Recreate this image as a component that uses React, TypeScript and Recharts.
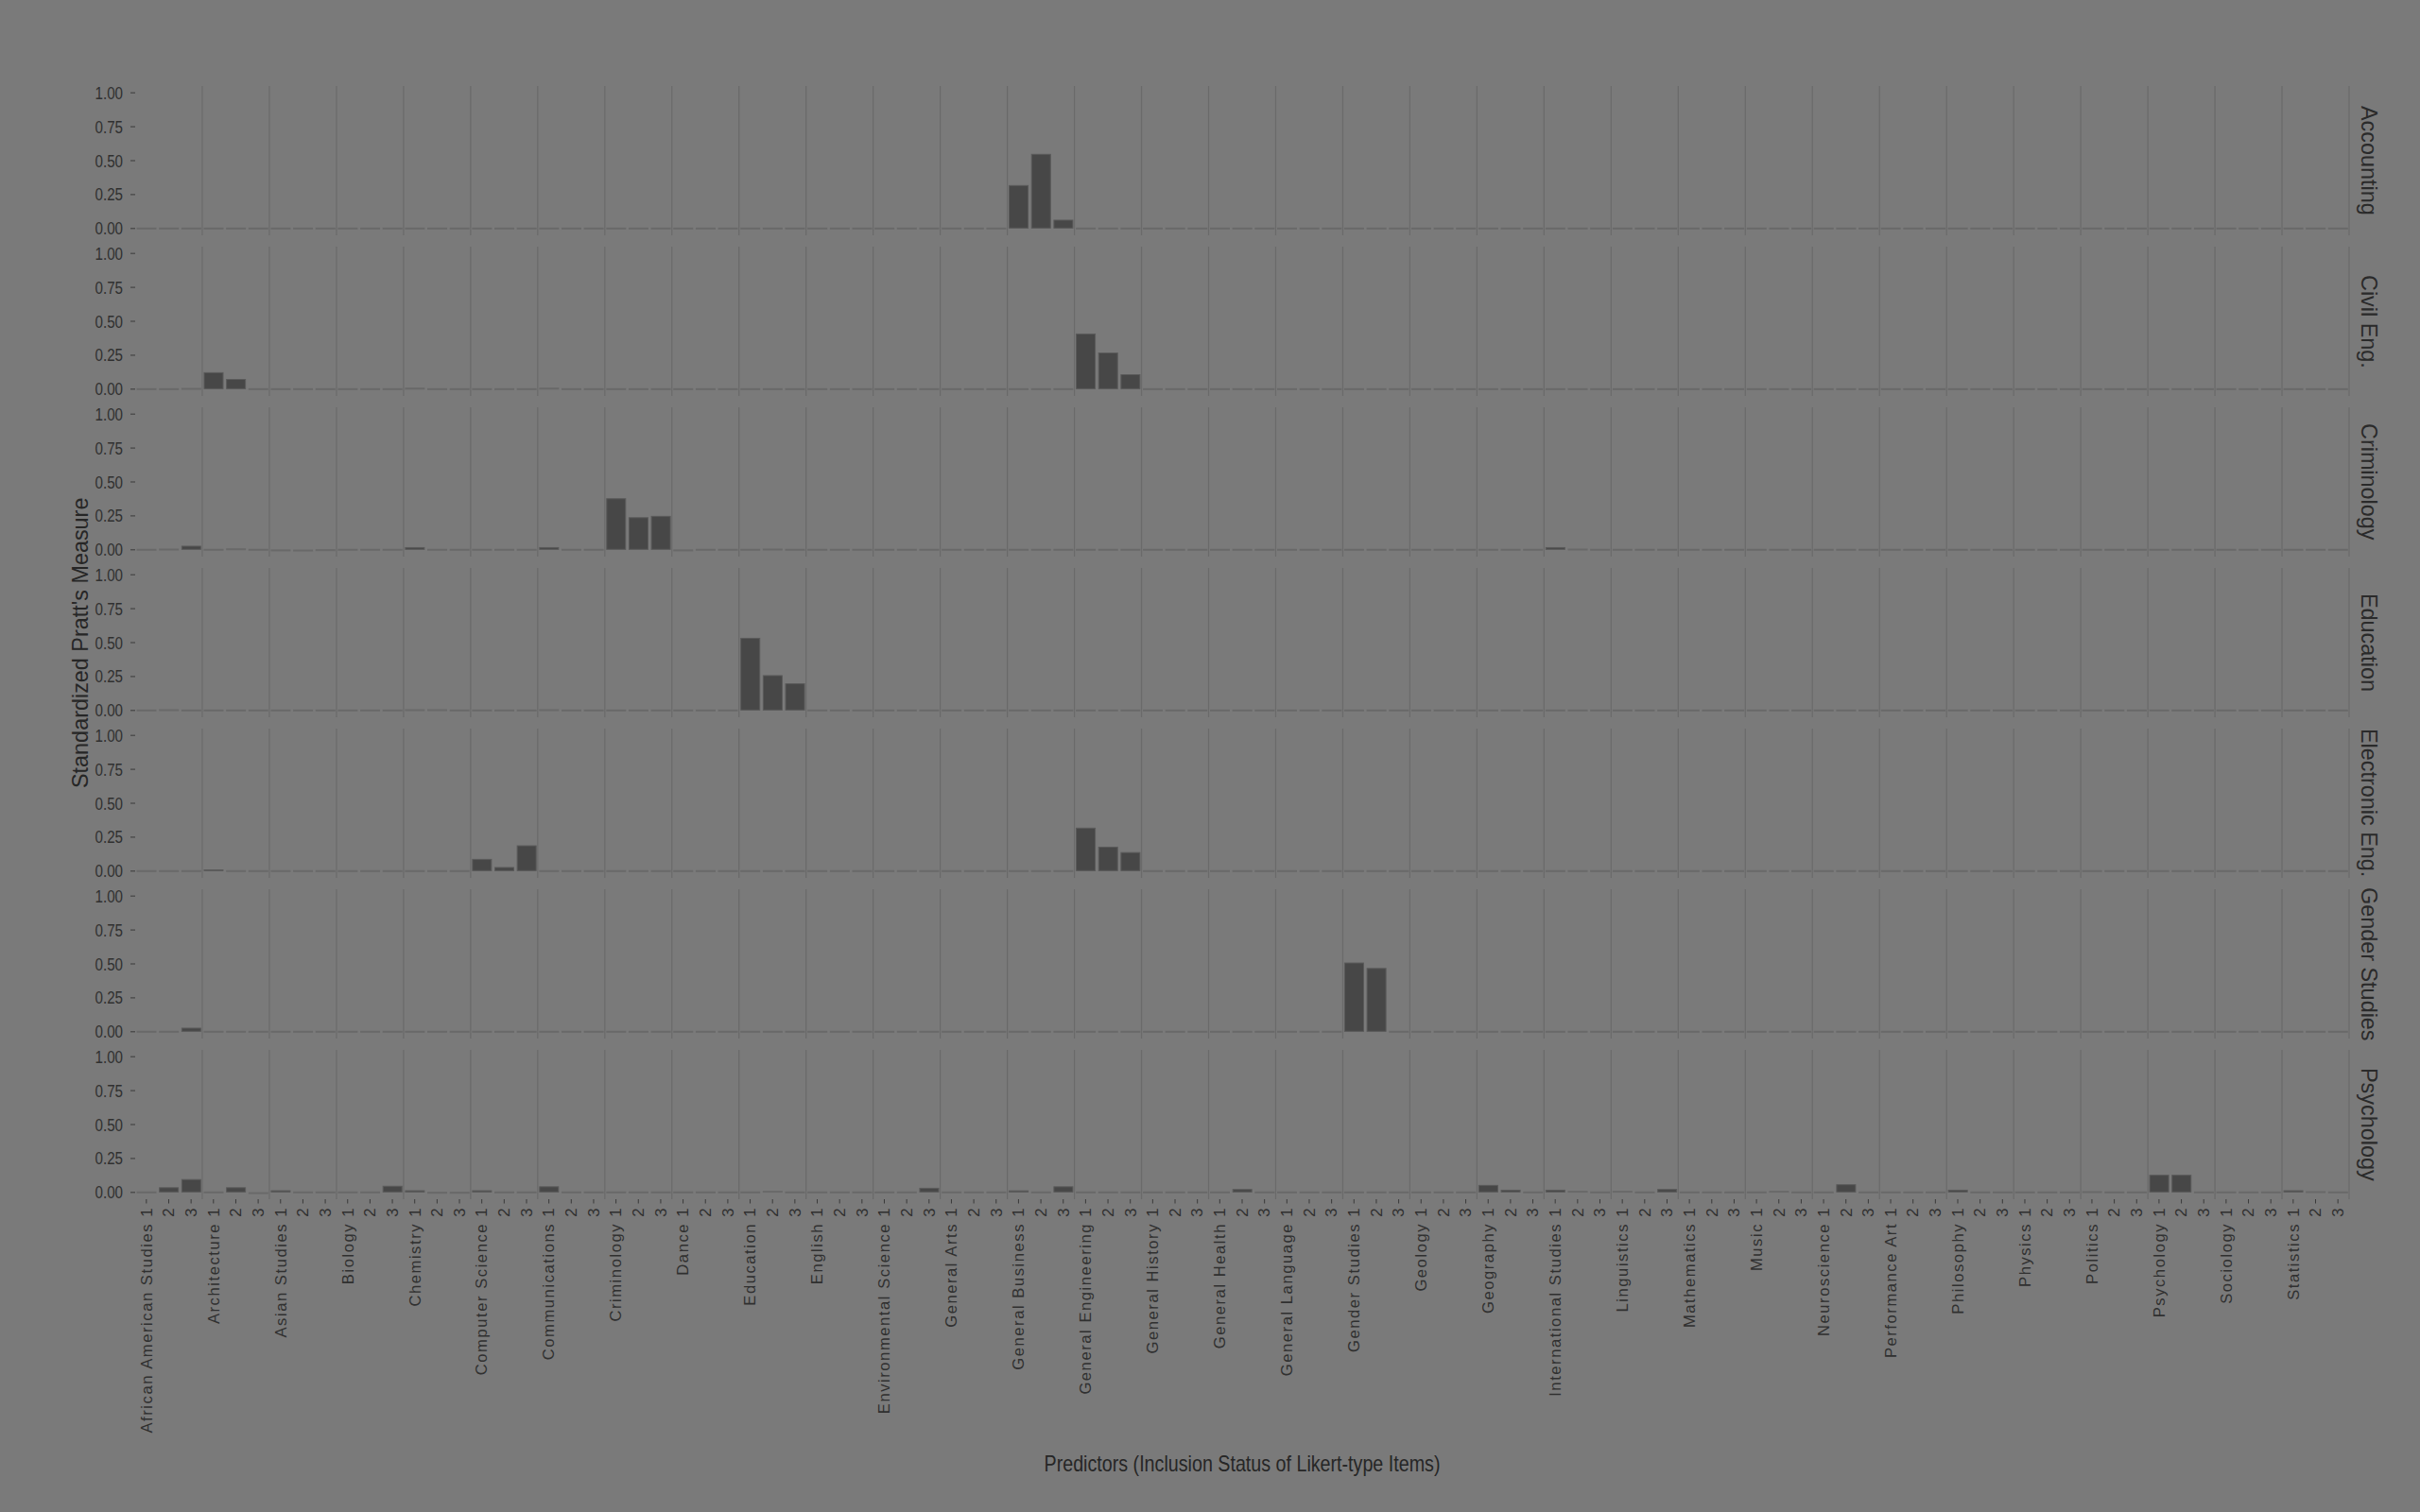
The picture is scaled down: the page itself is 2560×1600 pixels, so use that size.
import React from "react";
import { BarChart, Bar, XAxis, YAxis, ReferenceLine } from "recharts";

const subjects = [
  "African American Studies", "Architecture", "Asian Studies", "Biology", "Chemistry", "Computer Science",
  "Communications", "Criminology", "Dance", "Education", "English", "Environmental Science",
  "General Arts", "General Business", "General Engineering", "General History", "General Health", "General Language",
  "Gender Studies", "Geology", "Geography", "International Studies", "Linguistics", "Mathematics",
  "Music", "Neuroscience", "Performance Art", "Philosophy", "Physics", "Politics",
  "Psychology", "Sociology", "Statistics",
];
const levels = ["1", "2", "3"];
const facets = ["Accounting", "Civil Eng.", "Criminology", "Education", "Electronic Eng.", "Gender Studies", "Psychology"];
const yTicks = [0, 0.25, 0.5, 0.75, 1];

// three values (items 1, 2, 3) per subject, six subjects per line
const accounting = [
  0, 0, 0, 0, 0, 0, 0, 0, 0, 0, 0, 0, 0, 0, 0, 0, 0, 0,
  0, 0, 0, 0, 0, 0, 0, 0, 0, 0, 0, 0, 0, 0, 0, 0, 0, 0,
  0, 0, 0, 0.32, 0.55, 0.065, 0, 0, 0, 0, 0, 0, 0, 0, 0, 0, 0, 0,
  0, 0, 0, 0, 0, 0, 0, 0, 0, 0, 0, 0, 0, 0, 0, 0, 0, 0,
  0, 0, 0, 0, 0, 0, 0, 0, 0, 0, 0, 0, 0, 0, 0, 0, 0, 0,
  0, 0, 0, 0, 0, 0, 0, 0, 0,
];
const civilEng = [
  0, 0, 0.005, 0.125, 0.075, 0, 0, 0, 0, 0, 0, 0, 0.008, 0, 0, 0, 0, 0,
  0.008, 0, 0, 0, 0, 0, 0, 0, 0, 0, 0, 0, 0, 0, 0, 0, 0, 0,
  0, 0, 0, 0, 0, 0, 0.41, 0.27, 0.11, 0, 0, 0, 0, 0, 0, 0, 0, 0,
  0, 0, 0, 0, 0, 0, 0, 0, 0, 0, 0, 0, 0, 0, 0, 0, 0, 0,
  0, 0, 0, 0, 0, 0, 0, 0, 0, 0, 0, 0, 0, 0, 0, 0, 0, 0,
  0, 0, 0, 0, 0, 0, 0, 0, 0,
];
const criminology = [
  0, 0.005, 0.03, 0, 0.008, 0, -0.008, -0.01, -0.005, 0, 0, 0, 0.02, 0, 0, 0, 0, 0,
  0.02, 0, 0, 0.38, 0.24, 0.25, -0.008, 0, 0, 0, 0.005, 0, 0, 0, 0, 0, 0, 0,
  0, 0, 0, 0, 0, 0, 0, 0, 0, 0, 0, 0, 0, 0, 0, 0, 0, 0,
  0, 0, 0, 0, 0, 0, 0, 0, 0, 0.02, 0.005, 0, 0, 0, 0, 0, 0, 0,
  0, 0, 0, 0, 0, 0, 0, 0, 0, 0, 0, 0, 0, 0, 0, 0, 0, 0,
  0, 0, 0, 0, 0, 0, 0, 0, 0,
];
const education = [
  0, 0.005, 0, 0, 0, 0, 0, 0, 0, 0, 0, 0, 0.005, 0.005, 0, 0, 0, 0,
  0.005, 0, 0, 0, 0, 0, 0, 0, 0, 0.535, 0.26, 0.2, 0, 0, 0, 0, 0, 0,
  0, 0, 0, 0, 0, 0, 0, 0, 0, 0, 0, 0, 0, 0, 0, 0, 0, 0,
  0, 0, 0, 0, 0, 0, 0, 0, 0, 0, 0, 0, 0, 0, 0, 0, 0, 0,
  0, 0, 0, 0, 0, 0, 0, 0, 0, 0, 0, 0, 0, 0, 0, 0, 0, 0,
  0, 0, 0, 0, 0, 0, 0, 0, 0,
];
const electronicEng = [
  0, 0, 0, 0.012, 0, 0, 0, 0, 0, 0, 0, 0, 0, 0, 0, 0.09, 0.03, 0.19,
  0, 0, 0, 0, 0, 0, 0, 0, 0, 0, 0, 0, 0, 0, 0, 0, 0, 0,
  0, 0, 0, 0, 0, 0, 0.32, 0.18, 0.14, 0, 0, 0, 0, 0, 0, 0, 0, 0,
  0, 0, 0, 0, 0, 0, 0, 0, 0, 0, 0, 0, 0, 0, 0, 0, 0, 0,
  0, 0, 0, 0, 0, 0, 0, 0, 0, 0, 0, 0, 0, 0, 0, 0, 0, 0,
  0, 0, 0, 0, 0, 0, 0, 0, 0,
];
const genderStudies = [
  0, 0, 0.03, 0, 0, 0, 0, 0, 0, 0, 0, 0, 0, 0, 0, 0, 0, 0,
  0, 0, 0, 0, 0, 0, 0, 0, 0, 0, 0, 0, 0, 0, 0, 0, 0, 0,
  0, 0, 0, 0, 0, 0, 0, 0, 0, 0, 0, 0, 0, 0, 0, 0, 0, 0,
  0.51, 0.47, 0, 0, 0, 0, 0, 0, 0, 0, 0, 0, 0, 0, 0, 0, 0, 0,
  0, 0, 0, 0, 0, 0, 0, 0, 0, 0, 0, 0, 0, 0, 0, 0, 0, 0,
  0, 0, 0, 0, 0, 0, 0, 0, 0,
];
const psychology = [
  0, 0.038, 0.098, 0, 0.038, -0.01, 0.016, 0, 0, 0, 0, 0.049, 0.016, -0.005, -0.005, 0.016, 0, 0,
  0.045, 0, 0, 0, 0, 0, 0, 0, 0, 0, 0.01, 0, 0, 0, 0, 0, 0, 0.034,
  0, 0, 0, 0.015, 0, 0.045, 0, 0, 0, 0, 0, 0, 0, 0.025, 0, 0, 0, 0,
  0, 0, 0, 0, 0, 0, 0.055, 0.02, 0, 0.02, 0.01, 0, 0.01, 0, 0.025, 0, 0, 0,
  0, 0.01, 0, 0, 0.06, 0, 0, 0, 0, 0.02, 0, 0, 0, 0, 0, 0.005, 0, 0,
  0.13, 0.13, 0, 0, 0, 0, 0.016, 0.005, 0,
];
const facetValues = [accounting, civilEng, criminology, education, electronicEng, genderStudies, psychology];

const categories = subjects.flatMap((s) => levels.map((l) => `${s} ${l}`));
const positions = categories.map((_, i) => i);
// lines sit between the last item of one subject and the first of the next
const boundaries = subjects.map((_, i) => (i + 1) * levels.length - 0.5);

const BG = "#7a7a7a";
const TEXT = "#303030";
const FONT = "'Liberation Sans', Arial, sans-serif";
const PLOT_LEFT = 143;
const PLOT_RIGHT = 2485;
const PANEL_TOP = 91;
const PANEL_H = 158;
const PANEL_STEP = 170;
const PAD = 14;
const AXIS_H = 270;

function BarShape(props: any) {
  const { x, y, width, height } = props;
  const top = Math.min(y, y + height);
  const h = Math.abs(height);
  if (h < 1.5) {
    return <rect x={x} y={top + h / 2 - 1} width={width} height={2} fill="#696969" />;
  }
  return (
    <rect x={x + 0.5} y={top + 0.5} width={width - 1} height={h - 1}
      fill="#474747" stroke="#5a5a5a" strokeWidth={1} />
  );
}

function XTick({ x, y, payload }: any) {
  const i = payload.value;
  const label = i % 3 === 0 ? categories[i] : levels[i % 3];
  return (
    <text x={x} y={y} dy="0.35em" transform={`rotate(-90, ${x}, ${y})`} textAnchor="end"
      fill={TEXT} fontSize={16.6} letterSpacing={1.55} fontFamily={FONT}>
      {label}
    </text>
  );
}

function YTick({ x, y, payload }: any) {
  return (
    <text transform={`translate(${x}, ${y}) scale(0.82, 1)`} x={0} y={0} dy="0.355em" textAnchor="end"
      fill={TEXT} fontSize={18.5} fontFamily={FONT}>
      {payload.value.toFixed(2)}
    </text>
  );
}

function Panel({ values, last }: { values: number[]; last: boolean }) {
  const rows = positions.map((pos, i) => ({ pos, value: values[i] }));
  return (
    <BarChart width={2560} height={PANEL_H + PAD * 2 + (last ? AXIS_H - PAD : 0)} data={rows}
      margin={{ top: PAD, right: 2560 - PLOT_RIGHT, bottom: last ? 0 : PAD, left: 0 }} barCategoryGap={1.5}>
      <XAxis dataKey="pos" type="number" domain={[-0.5, categories.length - 0.5]} ticks={positions}
        allowDataOverflow hide={!last} height={AXIS_H} interval={0} tick={<XTick />}
        axisLine={false} tickSize={4.5} tickMargin={3.5} tickLine={{ stroke: "#3a3a3a" }} />
      <YAxis width={PLOT_LEFT} domain={[-0.05, 1.05]} ticks={yTicks} allowDataOverflow interval={0}
        axisLine={false} tickSize={5} tickMargin={8} tickLine={{ stroke: "#3a3a3a" }} tick={<YTick />} />
      {boundaries.map((b) => (
        <ReferenceLine key={b} x={b} stroke="#6a6a6a" strokeWidth={1.2} />
      ))}
      <Bar dataKey="value" shape={<BarShape />} isAnimationActive={false} />
    </BarChart>
  );
}

export default function App() {
  return (
    <div style={{ position: "absolute", left: 0, top: 0, width: 2560, height: 1600, background: BG, overflow: "hidden" }}>
      {facets.map((f, i) => (
        <div key={f} style={{ position: "absolute", left: 0, top: PANEL_TOP + i * PANEL_STEP - PAD }}>
          <Panel values={facetValues[i]} last={i === facets.length - 1} />
          <div style={{
            position: "absolute", left: 2490, top: PAD, width: 30, height: PANEL_H,
            display: "flex", alignItems: "center", justifyContent: "center",
            writingMode: "vertical-rl", fontFamily: FONT,
            fontSize: 23.4, color: "#2a2a2a", whiteSpace: "nowrap",
          }}>
            {f}
          </div>
        </div>
      ))}
      <div style={{
        position: "absolute", left: 70, top: 380, width: 30, height: 600,
        display: "flex", alignItems: "center", justifyContent: "center",
        writingMode: "vertical-rl", transform: "rotate(180deg)",
        fontFamily: FONT, fontSize: 23.4, color: "#262626", whiteSpace: "nowrap",
      }}>
        Standardized Pratt's Measure
      </div>
      <div style={{
        position: "absolute", left: PLOT_LEFT, width: PLOT_RIGHT - PLOT_LEFT, top: 1535, textAlign: "center",
        fontFamily: FONT, fontSize: 24, color: "#262626", transform: "scaleX(0.82)", transformOrigin: "center",
      }}>
        Predictors (Inclusion Status of Likert-type Items)
      </div>
    </div>
  );
}
